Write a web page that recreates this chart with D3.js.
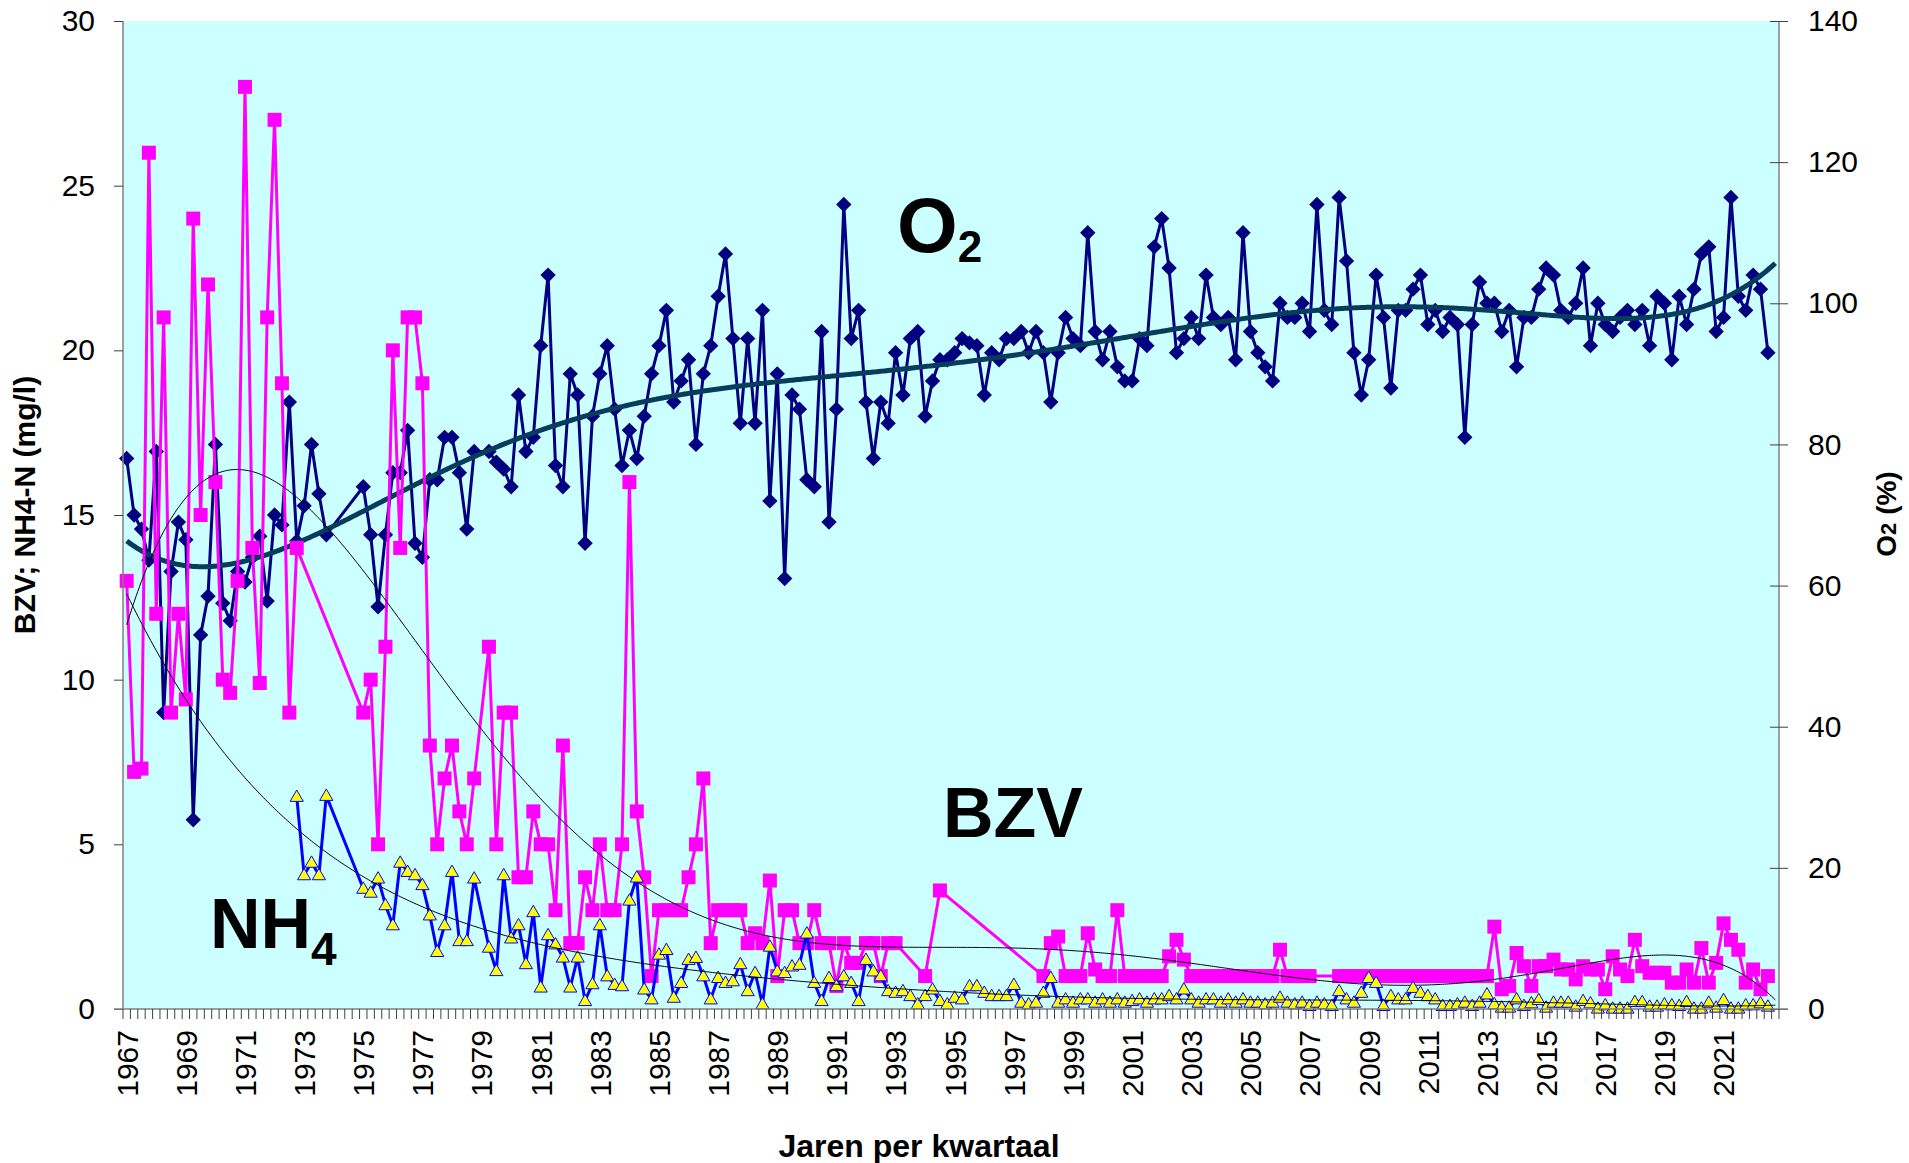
<!DOCTYPE html>
<html>
<head>
<meta charset="utf-8">
<script src="https://cdn.jsdelivr.net/npm/d3@7"></script>
<style>
  body { margin: 0; background: #fff; }
  text { font-family: "Liberation Sans", Arial, sans-serif; }
</style>
</head>
<body>
<div id="holder"></div>
<script>
// quarterly categories 1967 .. 2022
const years = d3.range(1967, 2023);
const categories = years.flatMap(y => [1, 2, 3, 4].map(q => y + "-" + q));
const yearTicks = years.filter((y, i) => i % 2 === 0);

const leftTicks = [0, 5, 10, 15, 20, 25, 30];
const rightTicks = [0, 20, 40, 60, 80, 100, 120, 140];

// O2 (%) per quarter, null = no measurement
const o2 = [
  78, 70, 68, 63.6, 79, 42, 62, 69, 66.5, 26.8, 53, 58.5, 80, 57.5, 55, 62,
  60.5, 64, 67, 57.8, 70, 68.6, 86, 66.3, 71.3, 80, 73, 67.2, null, null, null, null,
  74, 67.2, 57, 67.2, 76, 76, 82, 66, 64, 75, 75, 81, 81, 76, 68, 79,
  null, 79, 77.5, 76.5, 74, 87, 79, 81, 94, 104, 77, 74, 90, 87, 66, 84,
  90, 94, 85, 77, 82, 78, 84, 90, 94, 99, 86, 89, 92, 80, 90, 94,
  101, 107, 95, 83, 95, 83, 99, 72, 90, 61, 87, 85, 75, 74, 96, 69,
  85, 114, 95, 99, 86, 78, 86, 83, 93, 87, 95, 96, 84, 89, 92, 92,
  93, 95, 94.4, 94, 87, 93, 92, 95, 95, 96, 93, 96, 93, 86, 93, 98,
  95, 94, 110, 96, 92, 96, 91, 89, 89, 95, 94, 108, 112, 105, 93, 95,
  98, 95, 104, 98, 97, 98, 92, 110, 96, 93, 91, 89, 100, 98, 98, 100,
  96, 114, 99, 97, 115, 106, 93, 87, 92, 104, 98, 88, 99, 99, 102, 104,
  97, 99, 96, 98, 97, 81, 97, 103, 100, 100, 96, 99, 91, 98, 98, 102,
  105, 104, 99, 98, 100, 105, 94, 100, 97, 96, 98, 99, 97, 99, 94, 101,
  100, 92, 101, 97, 102, 107, 108, 96, 98, 115, 101, 99, 104, 102, 93, null
];

// BZV (mg/l)
const bzv = [
  13, 7.2, 7.3, 26, 12, 21, 9, 12, 9.4, 24, 15, 22, 16, 10, 9.6, 13,
  28, 14, 9.9, 21, 27, 19, 9, 14, null, null, null, null, null, null, null, null,
  9, 10, 5, 11, 20, 14, 21, 21, 19, 8, 5, 7, 8, 6, 5, 7,
  null, 11, 5, 9, 9, 4, 4, 6, 5, 5, 3, 8, 2, 2, 4, 3,
  5, 3, 3, 5, 16, 6, 4, 1, 3, 3, 3, 3, 4, 5, 7, 2,
  3, 3, 3, 3, 2, 2.3, 2, 3.9, 1, 3, 3, 2, 2, 3, 2, 2,
  0.7, 2, 1.4, 1.4, 2, 2, 1, 2, 2, null, null, null, 1, null, 3.6, null,
  null, null, null, null, null, null, null, null, null, null, null, null, 1, 2, 2.2, 1,
  1, 1, 2.3, 1.2, 1, 1, 3, 1, 1, 1, 1, 1, 1, 1.6, 2.1, 1.5,
  1, 1, 1, 1, 1, 1, 1, 1, 1, 1, 1, 1, 1.8, 1, 1, 1,
  1, null, null, null, 1, 1, 1, 1, 1, 1, 1, 1, 1, 1, 1, 1,
  1, 1, 1, 1, 1, 1, 1, 1, 1, 2.5, 0.6, 0.7, 1.7, 1.3, 0.7, 1.3,
  1.3, 1.5, 1.2, 1.2, 0.9, 1.3, 1.2, 1.2, 0.6, 1.6, 1.2, 1, 2.1, 1.3, 1.1, 1.1,
  1.1, 0.8, 0.8, 1.2, 0.8, 1.85, 0.8, 1.4, 2.6, 2.1, 1.8, 0.8, 1.2, 0.6, 1, null
];

// NH4-N (mg/l)
const nh4 = [
  null, null, null, null, null, null, null, null, null, null, null, null, null, null, null, null,
  null, null, null, null, null, null, null, 6.45, 4.07, 4.45, 4.07, 6.48, null, null, null, null,
  3.66, 3.54, 3.97, 3.16, 2.55, 4.45, 4.17, 4.07, 3.77, 2.85, 1.74, 2.55, 4.17, 2.07, 2.07, 3.97,
  null, 1.87, 1.16, 4.07, 2.15, 2.55, 1.37, 2.95, 0.66, 2.25, 1.97, 1.57, 0.66, 1.57, 0.25, 0.76,
  2.55, 1, 0.74, 0.7, 3.3, 4, 0.6, 0.3, 1.66, 1.8, 0.35, 0.8, 1.5, 1.56, 1, 0.3,
  0.95, 0.8, 0.85, 1.37, 0.55, 1.1, 0.15, 1.9, 1.15, 1.1, 1.3, 1.35, 2.3, 0.8, 0.25, 0.95,
  0.7, 1, 0.8, 0.25, 1.5, 1.15, 1, 0.55, 0.5, 0.55, 0.4, 0.15, 0.4, 0.6, 0.25, 0.15,
  0.35, 0.3, 0.7, 0.7, 0.5, 0.4, 0.4, 0.4, 0.74, 0.2, 0.15, 0.2, 0.5, 0.95, 0.2, 0.3,
  0.2, 0.3, 0.3, 0.2, 0.3, 0.2, 0.3, 0.2, 0.25, 0.3, 0.2, 0.3, 0.3, 0.4, 0.3, 0.6,
  0.3, 0.2, 0.3, 0.3, 0.2, 0.3, 0.2, 0.3, 0.2, 0.2, 0.15, 0.2, 0.35, 0.2, 0.15, 0.2,
  0.1, 0.2, 0.15, 0.1, 0.55, 0.3, 0.2, 0.5, 0.95, 0.8, 0.1, 0.4, 0.3, 0.3, 0.65, 0.5,
  0.4, 0.3, 0.1, 0.1, 0.15, 0.2, 0.1, 0.2, 0.45, 0.15, 0.05, 0.05, 0.3, 0.1, 0.18, 0.28,
  0.05, 0.2, 0.2, 0.2, 0.08, 0.25, 0.18, 0.02, 0.12, 0.02, 0.02, 0.02, 0.22, 0.22, 0.08, 0.08,
  0.15, 0.12, 0.1, 0.22, 0.02, 0.02, 0.2, 0.05, 0.28, 0.02, 0.02, 0.12, 0.12, 0.18, 0.08, null
];

const W = 1909, H = 1163;
const plot = { left: 123, right: 1779, top: 21, bottom: 1009 };
const font = '"Liberation Sans", Arial, sans-serif';

const svg = d3.select('#holder').append('svg').attr('width', W).attr('height', H);

const x = d3.scaleBand().domain(categories).range([plot.left, plot.right]).paddingInner(0).paddingOuter(0);
const yL = d3.scaleLinear().domain([0, 30]).range([plot.bottom, plot.top]);
const yR = d3.scaleLinear().domain([0, 140]).range([plot.bottom, plot.top]);
const cx = i => x(categories[i]) + x.bandwidth() / 2;

svg.append('rect')
  .attr('x', plot.left).attr('y', plot.top)
  .attr('width', plot.right - plot.left).attr('height', plot.bottom - plot.top)
  .style('fill', '#ccffff');

// least squares polynomial trend (like excel's trendline)
function polyTrend(vals, order) {
  const pts = vals.map((v, i) => [i, v]).filter(d => d[1] != null);
  const c = 111.5, s = 111.5;
  const n = order + 1;
  const A = d3.range(n).map(() => new Array(n).fill(0));
  const b = new Array(n).fill(0);
  pts.forEach(([i, v]) => {
    const t = (i - c) / s;
    const p = d3.range(2 * n).map(k => Math.pow(t, k));
    for (let r = 0; r < n; r++) {
      b[r] += v * p[r];
      for (let k = 0; k < n; k++) A[r][k] += p[r + k];
    }
  });
  for (let col = 0; col < n; col++) {
    let piv = col;
    for (let r = col + 1; r < n; r++) if (Math.abs(A[r][col]) > Math.abs(A[piv][col])) piv = r;
    [A[col], A[piv]] = [A[piv], A[col]];
    [b[col], b[piv]] = [b[piv], b[col]];
    for (let r = col + 1; r < n; r++) {
      const f = A[r][col] / A[col][col];
      for (let k = col; k < n; k++) A[r][k] -= f * A[col][k];
      b[r] -= f * b[col];
    }
  }
  const coef = new Array(n).fill(0);
  for (let r = n - 1; r >= 0; r--) {
    let sum = b[r];
    for (let k = r + 1; k < n; k++) sum -= A[r][k] * coef[k];
    coef[r] = sum / A[r][r];
  }
  return i => {
    const t = (i - c) / s;
    return coef.reduce((acc, a, k) => acc + a * Math.pow(t, k), 0);
  };
}

const steps = d3.range(0, categories.length - 1 + 0.001, 0.25);
const pos = (vals) => vals.map((v, i) => ({ i, v })).filter(d => d.v != null);

function drawSeries(vals, yScale, color, width) {
  const line = d3.line().x(d => cx(d.i)).y(d => yScale(d.v));
  svg.append('path').datum(pos(vals))
    .attr('d', line)
    .style('fill', 'none').style('stroke', color)
    .style('stroke-width', width).style('stroke-linejoin', 'round');
}

function drawTrend(vals, yScale, color, width, order) {
  const f = polyTrend(vals, order);
  const line = d3.line().x(i => x(categories[0]) + x.bandwidth() * (i + 0.5)).y(i => yScale(f(i)));
  svg.append('path').datum(steps)
    .attr('d', line)
    .style('fill', 'none').style('stroke', color).style('stroke-width', width);
}

// O2
drawSeries(o2, yR, '#000080', 3);
svg.append('g').selectAll('path').data(pos(o2)).join('path')
  .attr('d', d3.symbol(d3.symbolDiamond2, 150))
  .attr('transform', d => `translate(${cx(d.i)},${yR(d.v)})`)
  .style('fill', '#000080');
drawTrend(o2, yR, '#073c5c', 5, 6);

// BZV
drawSeries(bzv, yL, '#ff00ff', 3);
svg.append('g').selectAll('rect').data(pos(bzv)).join('rect')
  .attr('x', d => cx(d.i) - 7).attr('y', d => yL(d.v) - 7)
  .attr('width', 14).attr('height', 14)
  .style('fill', '#ff00ff');
drawTrend(bzv, yL, '#000', 1, 6);

// NH4
drawSeries(nh4, yL, '#0000ff', 3);
svg.append('g').selectAll('path').data(pos(nh4)).join('path')
  .attr('d', d3.symbol(d3.symbolTriangle, 75))
  .attr('transform', d => `translate(${cx(d.i)},${yL(d.v) + 1})`)
  .style('fill', '#ffff00').style('stroke', '#0000ff').style('stroke-width', 1);
drawTrend(nh4, yL, '#000', 1, 6);

// axes
const axisColor = '#808080';
const gl = svg.append('g').attr('transform', `translate(${plot.left},0)`)
  .call(d3.axisLeft(yL).tickValues(leftTicks).tickSize(9).tickPadding(19));
const gr = svg.append('g').attr('transform', `translate(${plot.right},0)`)
  .call(d3.axisRight(yR).tickValues(rightTicks).tickSize(9).tickPadding(20));
gr.selectAll('.tick line').attr('x1', -9);
const gb = svg.append('g').attr('transform', `translate(0,${plot.bottom})`)
  .call(d3.axisBottom(x).tickValues(yearTicks.map(y => y + '-1')).tickSize(0)
    .tickFormat(d => d.split('-')[0]));
gb.selectAll('.tick text')
  .attr('transform', 'rotate(-90)')
  .attr('x', -21).attr('y', 0).attr('dy', '0.36em')
  .style('text-anchor', 'end');

// quarter tick marks between categories
svg.append('g').selectAll('line').data(categories.concat(['end'])).join('line')
  .attr('x1', (d, i) => plot.left + i * x.bandwidth())
  .attr('x2', (d, i) => plot.left + i * x.bandwidth())
  .attr('y1', plot.bottom).attr('y2', plot.bottom + 10)
  .style('stroke', '#404040').style('stroke-width', 1);

[gl, gr, gb].forEach(g => {
  g.selectAll('.domain').style('stroke', axisColor).style('stroke-width', 1.5);
  g.selectAll('.tick line').style('stroke', '#404040');
  g.selectAll('.tick text').style('font-size', '30px').style('font-family', font).style('fill', '#000');
});
gl.select('.domain').attr('d', `M0,${plot.top}V${plot.bottom}`);
gr.select('.domain').attr('d', `M0,${plot.top}V${plot.bottom}`);
gb.select('.domain').attr('d', `M${plot.left - 9},0H${plot.right + 9}`);

// axis titles
svg.append('text')
  .attr('transform', 'translate(35,505) rotate(-90)')
  .style('text-anchor', 'middle').style('font-weight', 'bold').style('font-size', '30px')
  .text('BZV; NH4-N (mg/l)');
const rt = svg.append('text')
  .attr('transform', 'translate(1896,514) rotate(-90)')
  .style('text-anchor', 'middle').style('font-weight', 'bold').style('font-size', '28px');
rt.append('tspan').text('O');
rt.append('tspan').text('2').style('font-size', '22px');
rt.append('tspan').text(' (%)');
svg.append('text')
  .attr('x', 919).attr('y', 1157)
  .style('text-anchor', 'middle').style('font-weight', 'bold').style('font-size', '32px')
  .text('Jaren per kwartaal');

// series labels inside the plot
function bigLabel(px, py, main, sub, size, subSize, shift) {
  const t = svg.append('text').attr('x', px).attr('y', py)
    .style('font-weight', 'bold').style('font-size', size + 'px');
  t.append('tspan').text(main);
  if (sub) t.append('tspan').text(sub).style('font-size', subSize + 'px').attr('dy', shift);
}
bigLabel(897, 252, 'O', '2', 78, 44, 10);
bigLabel(943, 837, 'BZV', null, 70);
bigLabel(210, 948, 'NH', '4', 70, 46, 17);
</script>
</body>
</html>
